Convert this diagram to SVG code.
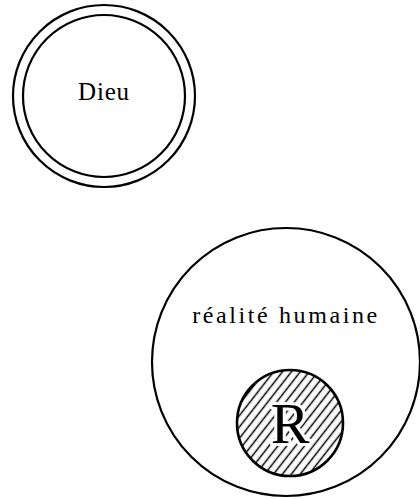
<svg xmlns="http://www.w3.org/2000/svg" width="420" height="499" viewBox="0 0 420 499">
<style>
.ring{fill:none;stroke:#000;stroke-width:2.2}
.lbl{font-family:"Liberation Serif","Times New Roman",serif;fill:#000;text-anchor:middle}
</style>
<defs>
<pattern id="hatch" patternUnits="userSpaceOnUse" width="7" height="7" patternTransform="rotate(-52)">
<line x1="0" y1="3.5" x2="7" y2="3.5" stroke="#000" stroke-width="1.5"/>
</pattern>
</defs>
<rect width="420" height="499" fill="#fff"/>
<g id="dieu">
<circle class="ring" cx="104" cy="96" r="91"/>
<circle class="ring" cx="104" cy="96" r="81"/>
<text class="lbl" x="104" y="100" font-size="25" letter-spacing="0.8">Dieu</text>
</g>
<g id="realite-humaine">
<circle class="ring" cx="286" cy="362" r="134"/>
<text class="lbl" x="286" y="323" font-size="24" letter-spacing="2.6">réalité humaine</text>
</g>
<g id="R">
<circle cx="290" cy="423" r="53" fill="url(#hatch)" stroke="#000" stroke-width="2.6"/>
<text class="lbl" x="290" y="443" font-size="58" stroke="#fff" stroke-width="6" paint-order="stroke" stroke-linejoin="round">R</text>
</g>
<g id="connectors"/>
</svg>
